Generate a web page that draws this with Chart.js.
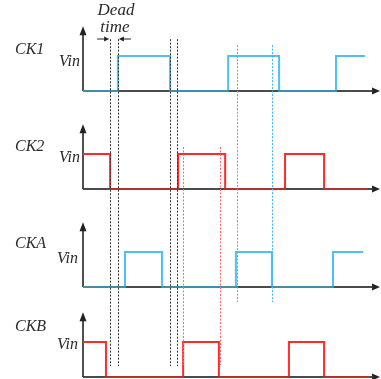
<!DOCTYPE html>
<html>
<head>
<meta charset="utf-8">
<script src="https://cdn.jsdelivr.net/npm/chart.js@4.4.0/dist/chart.umd.min.js"></script>
<style>
  html, body { margin: 0; padding: 0; background: #fff; }
  #wrap { width: 381px; height: 379px; }
</style>
</head>
<body>
<div id="wrap"><canvas id="timing" width="381" height="379"></canvas></div>
<script>
// signal names, top to bottom, and the baseline each one sits on
const signals = ['CK1', 'CK2', 'CKA', 'CKB'];
const baseLevels = [8.23, 5.43, 2.63, 0.06];
const signalColors = ['#4cc2f3', '#ff2a2a', '#4cc2f3', '#ff2a2a'];

// edge times and the level that starts at each edge (1 = Vin)
const ck1Times  = [0, 11.7, 29.2, 48.7, 65.8, 84.9, 94.6];
const ck1Levels = [0, 1, 0, 1, 0, 1, 1];
const ck2Times  = [0, 9.1, 31.9, 47.7, 67.8, 80.9, 95.6];
const ck2Levels = [1, 0, 1, 0, 1, 0, 0];
const ckaTimes  = [0, 14.1, 26.5, 51.3, 63.4, 83.9, 94.0];
const ckaLevels = [0, 1, 0, 1, 0, 1, 1];
const ckbTimes  = [0, 7.7, 33.6, 45.6, 69.1, 80.9, 96.3];
const ckbLevels = [1, 0, 1, 0, 1, 0, 0];

// dotted marker lines (times)
const blackDotTimes = [9.1, 11.7, 29.2, 31.5];
const redDotTimes = [33.6, 46.0];
const blueDotTimes = [51.6, 63.5];

const allTimes = [ck1Times, ck2Times, ckaTimes, ckbTimes];
const allLevels = [ck1Levels, ck2Levels, ckaLevels, ckbLevels];

function points(i) {
  return allTimes[i].map((t, k) => ({ x: t, y: baseLevels[i] + allLevels[i][k] }));
}

function arrowHead(ctx, x, y, dir, len, half) {
  // dir: 'up', 'right', 'left'
  ctx.beginPath();
  if (dir === 'up') {
    ctx.moveTo(x, y); ctx.lineTo(x - half, y + len); ctx.lineTo(x + half, y + len);
  } else if (dir === 'right') {
    ctx.moveTo(x, y); ctx.lineTo(x - len, y - half); ctx.lineTo(x - len, y + half);
  } else {
    ctx.moveTo(x, y); ctx.lineTo(x + len, y - half); ctx.lineTo(x + len, y + half);
  }
  ctx.closePath();
  ctx.fill();
}

function dottedLine(ctx, x, yA, yB, color) {
  ctx.save();
  ctx.strokeStyle = color;
  ctx.lineWidth = 1;
  ctx.setLineDash([2, 1.5]);
  ctx.beginPath();
  ctx.moveTo(Math.round(x) + 0.5, yA);
  ctx.lineTo(Math.round(x) + 0.5, yB);
  ctx.stroke();
  ctx.restore();
}

function timeAxis(chart, color) {
  const { ctx, scales: { x, y } } = chart;
  const x0 = x.getPixelForValue(0);
  const x1 = x.getPixelForValue(100) - 1;
  ctx.strokeStyle = color;
  ctx.lineWidth = 2;
  baseLevels.forEach(b => {
    const y0 = Math.round(y.getPixelForValue(b));
    ctx.beginPath();
    ctx.moveTo(x0, y0);
    ctx.lineTo(x1 - 6, y0);
    ctx.stroke();
  });
}

const labelY = [50, 147, 244, 327];
const vinY = [62, 158, 259, 345];
const vinRight = [80, 80, 78, 78];

const diagramDecor = {
  id: 'diagramDecor',
  beforeDatasetsDraw(chart) {
    const { ctx, scales: { x, y } } = chart;
    ctx.save();
    timeAxis(chart, '#555');
    const x0 = x.getPixelForValue(0);
    const x1 = x.getPixelForValue(100) - 1;
    ctx.fillStyle = '#222';
    baseLevels.forEach(b => {
      const y0 = Math.round(y.getPixelForValue(b));
      const yTop = y.getPixelForValue(b + 1.85);
      arrowHead(ctx, x1, y0, 'right', 8, 3.5);
      // level axis
      ctx.strokeStyle = '#222';
      ctx.lineWidth = 1.6;
      ctx.beginPath();
      ctx.moveTo(x0, y0);
      ctx.lineTo(x0, yTop + 6);
      ctx.stroke();
      arrowHead(ctx, x0, yTop, 'up', 9, 3.5);
    });
    ctx.restore();
  },
  afterDatasetsDraw(chart) {
    const { ctx, scales: { x, y } } = chart;
    ctx.save();
    // low parts of the waveforms blend with the axis under them
    timeAxis(chart, 'rgba(60,60,60,0.4)');

    blackDotTimes.forEach(t => dottedLine(ctx, x.getPixelForValue(t), y.getPixelForValue(9.71), y.getPixelForValue(0.37), '#333'));
    redDotTimes.forEach(t => dottedLine(ctx, x.getPixelForValue(t), y.getPixelForValue(6.63), y.getPixelForValue(0.4), '#ff6a6a'));
    blueDotTimes.forEach(t => dottedLine(ctx, x.getPixelForValue(t), y.getPixelForValue(9.54), y.getPixelForValue(2.2), '#3fb6f0'));

    // dead time annotation
    const dA = x.getPixelForValue(blackDotTimes[0]);
    const dB = x.getPixelForValue(blackDotTimes[1]);
    const ay = 39;
    ctx.strokeStyle = '#222';
    ctx.fillStyle = '#222';
    ctx.lineWidth = 1;
    ctx.beginPath();
    ctx.moveTo(dA - 13, ay); ctx.lineTo(dA - 4, ay);
    ctx.moveTo(dB + 13, ay); ctx.lineTo(dB + 4, ay);
    ctx.stroke();
    arrowHead(ctx, dA - 1, ay, 'right', 5, 2.5);
    arrowHead(ctx, dB + 1, ay, 'left', 5, 2.5);

    ctx.fillStyle = '#2b2b2b';
    ctx.font = 'italic 17px "Liberation Serif", serif';
    ctx.textAlign = 'center';
    ctx.textBaseline = 'middle';
    ctx.fillText('Dead', 116, 11);
    ctx.fillText('time', 115, 28);

    ctx.font = 'italic 16px "Liberation Serif", serif';
    signals.forEach((name, i) => {
      ctx.textAlign = 'left';
      ctx.fillText(name, 15, labelY[i]);
      ctx.textAlign = 'right';
      ctx.fillText('Vin', vinRight[i], vinY[i]);
    });
    ctx.restore();
  }
};

new Chart(document.getElementById('timing'), {
  type: 'line',
  data: {
    datasets: signals.map((name, i) => ({
      label: name,
      data: points(i),
      borderColor: signalColors[i],
      borderWidth: 2,
      pointRadius: 0,
      stepped: true,
      fill: false
    }))
  },
  options: {
    responsive: false,
    animation: false,
    layout: { padding: { left: 83, right: 0, top: 0, bottom: 0 } },
    plugins: { legend: { display: false }, tooltip: { enabled: false } },
    scales: {
      x: { type: 'linear', min: 0, max: 100, display: false },
      y: { type: 'linear', min: 0, max: 10.83, display: false }
    }
  },
  plugins: [diagramDecor]
});
</script>
</body>
</html>
